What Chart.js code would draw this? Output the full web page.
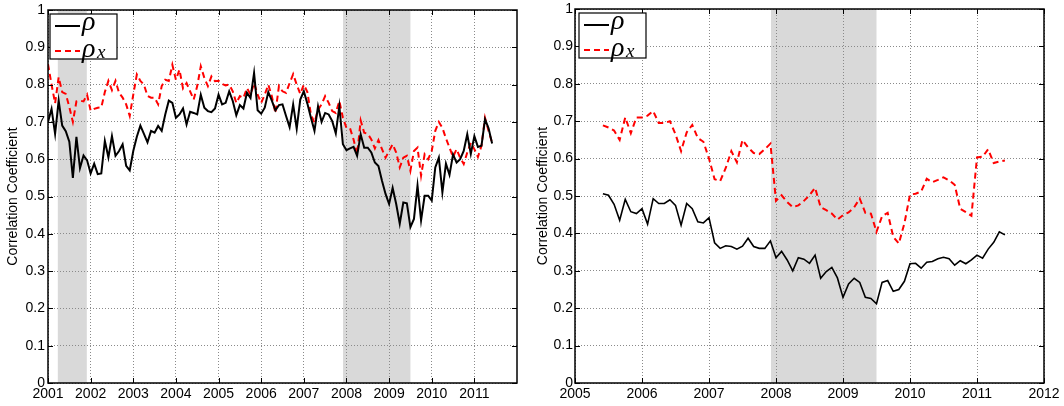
<!DOCTYPE html>
<html><head><meta charset="utf-8">
<script src="https://cdn.jsdelivr.net/npm/chart.js@4/dist/chart.umd.min.js"></script>
<style>
html,body{margin:0;padding:0;background:#fff;width:1064px;height:406px;overflow:hidden}
.p{position:absolute;top:0;height:406px}
</style></head><body>
<div class="p" style="left:0;width:530px"><canvas id="c1" width="530" height="406"></canvas></div>
<div class="p" style="left:530px;width:534px"><canvas id="c2" width="534" height="406"></canvas></div>
<script>
// ---------- DATA ----------
// Left panel: monthly, starting January 2001
const leftStartYear = 2001, leftStartMonth = 0;
const leftRho = [
0.70,0.735,0.668,0.757,0.69,0.675,0.647,0.55,0.66,0.576,
0.61,0.597,0.562,0.588,0.56,0.562,0.649,0.605,0.662,0.609,
0.622,0.64,0.582,0.57,0.622,0.66,0.69,0.668,0.645,0.676,
0.671,0.689,0.676,0.72,0.757,0.751,0.711,0.72,0.736,0.693,
0.727,0.724,0.72,0.773,0.738,0.729,0.726,0.736,0.773,0.747,
0.751,0.782,0.756,0.718,0.745,0.736,0.778,0.764,0.831,0.731,
0.722,0.738,0.78,0.757,0.731,0.745,0.747,0.716,0.686,0.747,
0.682,0.76,0.782,0.749,0.711,0.676,0.742,0.70,0.724,0.72,
0.702,0.669,0.742,0.64,0.624,0.629,0.633,0.609,0.667,0.631,
0.631,0.618,0.591,0.582,0.542,0.507,0.48,0.523,0.48,0.427,
0.484,0.482,0.418,0.44,0.529,0.436,0.502,0.502,0.489,0.578,
0.604,0.511,0.588,0.558,0.613,0.591,0.60,0.622,0.667,0.614,
0.662,0.633,0.636,0.707,0.683,0.642];
const leftRhoX = [
0.855,0.80,0.75,0.82,0.78,0.775,0.74,0.70,0.755,0.757,
0.755,0.773,0.73,0.735,0.738,0.739,0.78,0.81,0.785,0.81,
0.778,0.765,0.747,0.716,0.773,0.827,0.81,0.80,0.77,0.765,
0.765,0.747,0.796,0.813,0.81,0.853,0.813,0.84,0.79,0.804,
0.782,0.76,0.796,0.849,0.818,0.796,0.822,0.809,0.81,0.802,
0.798,0.80,0.782,0.751,0.769,0.764,0.791,0.773,0.804,0.773,
0.751,0.773,0.80,0.769,0.724,0.796,0.782,0.778,0.804,0.828,
0.80,0.775,0.80,0.78,0.72,0.698,0.733,0.747,0.769,0.751,
0.729,0.724,0.756,0.711,0.684,0.683,0.653,0.613,0.704,0.671,
0.668,0.653,0.629,0.651,0.627,0.604,0.622,0.64,0.618,0.578,
0.604,0.609,0.569,0.622,0.631,0.556,0.613,0.60,0.622,0.676,
0.70,0.684,0.656,0.631,0.606,0.627,0.604,0.587,0.618,0.644,
0.627,0.606,0.636,0.711,0.676,0.644];

// Right panel: monthly, starting June 2005
const rightStartYear = 2005, rightStartMonth = 5;
const rightRho = [
0.506,0.502,0.478,0.435,0.491,0.458,0.453,0.466,0.425,0.493,
0.48,0.48,0.49,0.475,0.422,0.48,0.466,0.431,0.428,0.442,
0.375,0.36,0.367,0.365,0.358,0.366,0.387,0.365,0.36,0.36,
0.38,0.335,0.352,0.329,0.30,0.335,0.331,0.32,0.342,0.28,
0.298,0.309,0.281,0.229,0.265,0.28,0.269,0.229,0.226,0.212,
0.269,0.274,0.245,0.25,0.272,0.319,0.32,0.307,0.323,0.325,
0.332,0.336,0.332,0.315,0.327,0.319,0.329,0.342,0.334,0.358,
0.376,0.404,0.396];
const rightRhoX = [
0.689,0.683,0.675,0.65,0.71,0.668,0.71,0.71,0.715,0.727,
0.695,0.695,0.70,0.665,0.62,0.67,0.69,0.655,0.645,0.60,
0.545,0.54,0.575,0.62,0.59,0.65,0.63,0.615,0.612,0.625,
0.64,0.487,0.502,0.484,0.47,0.475,0.487,0.502,0.522,0.47,
0.462,0.453,0.437,0.449,0.456,0.47,0.493,0.455,0.453,0.404,
0.446,0.455,0.391,0.373,0.427,0.504,0.506,0.512,0.546,0.537,
0.543,0.55,0.542,0.53,0.466,0.457,0.447,0.603,0.605,0.625,
0.588,0.592,0.595];

const leftXTicks = [2001,2002,2003,2004,2005,2006,2007,2008,2009,2010,2011];
const rightXTicks = [2005,2006,2007,2008,2009,2010,2011,2012];
const yTicks = [0,0.1,0.2,0.3,0.4,0.5,0.6,0.7,0.8,0.9,1];
const yTickLabels = ['0','0.1','0.2','0.3','0.4','0.5','0.6','0.7','0.8','0.9','1'];
const leftRecessions = [[2001.23,2001.91],[2007.92,2009.5]];
const rightRecessions = [[2007.925,2009.5]];
const yTitle = 'Correlation Coefficient';

// ---------- PLUGINS ----------
const shadePlugin = {
  id:'shade',
  beforeDraw(chart, args, opts){
    const {ctx, chartArea:a, scales:{x}} = chart;
    ctx.save();
    ctx.fillStyle = '#fff';
    ctx.fillRect(0,0,chart.width,chart.height);
    ctx.fillStyle = '#d9d9d9';
    for (const [s,e] of opts.periods){
      const x0 = x.getPixelForValue(s), x1 = x.getPixelForValue(e);
      ctx.fillRect(x0, a.top, x1-x0, a.bottom-a.top);
    }
    ctx.restore();
  }
};
const framePlugin = {
  id:'frame',
  afterDraw(chart, args, opts){
    const {ctx, chartArea:a, scales:{x,y}} = chart;
    ctx.save();
    ctx.strokeStyle = '#000';
    ctx.lineWidth = 1;
    ctx.beginPath();
    for (const v of opts.xticks){
      const px = Math.round(x.getPixelForValue(v))+0.5;
      ctx.moveTo(px,a.bottom); ctx.lineTo(px,a.bottom-5);
      ctx.moveTo(px,a.top); ctx.lineTo(px,a.top+5);
    }
    for (const v of yTicks){
      const py = Math.round(y.getPixelForValue(v))+0.5;
      ctx.moveTo(a.left,py); ctx.lineTo(a.left+5,py);
      ctx.moveTo(a.right,py); ctx.lineTo(a.right-5,py);
    }
    ctx.stroke();
    ctx.lineWidth = 1.5;
    ctx.strokeRect(a.left, a.top, a.right-a.left, a.bottom-a.top);
    // legend
    const bx = a.left + opts.lgdx, by = a.top + 4, bw = 67, bh = 45;
    ctx.fillStyle = '#fff';
    ctx.fillRect(bx,by,bw,bh);
    ctx.lineWidth = 1.2;
    ctx.strokeStyle = '#000';
    ctx.strokeRect(bx,by,bw,bh);
    ctx.lineWidth = 2;
    ctx.beginPath(); ctx.moveTo(bx+5,by+12); ctx.lineTo(bx+30,by+12); ctx.stroke();
    ctx.strokeStyle = '#ff0000';
    ctx.setLineDash([6,4]);
    ctx.beginPath(); ctx.moveTo(bx+5,by+37); ctx.lineTo(bx+30,by+37); ctx.stroke();
    ctx.setLineDash([]);
    ctx.fillStyle = '#000';
    ctx.textBaseline = 'alphabetic';
    ctx.textAlign = 'left';
    ctx.font = 'italic 28px "Liberation Serif"';
    ctx.fillText('ρ', bx+32, by+16);
    ctx.fillText('ρ', bx+32, by+43);
    ctx.font = 'italic 19px "Liberation Serif"';
    ctx.fillText('x', bx+47, by+44);
    ctx.restore();
  }
};

function monthly(startYear, startMonth, vals){
  return vals.map((v,i)=>({x: startYear + (startMonth+i)/12, y: v}));
}

function makeChart(id, cfg){
  const font = {family:'"Liberation Sans", Arial, sans-serif', size:14, lineHeight:1};
  return new Chart(document.getElementById(id), {
    type:'line',
    data:{datasets:[
      {label:'ρ', data: monthly(cfg.sy, cfg.sm, cfg.rho), borderColor:'#000', borderWidth:cfg.bw,
       pointRadius:0, tension:0, fill:false},
      {label:'ρx', data: monthly(cfg.sy, cfg.sm, cfg.rhox), borderColor:'#ff0000', borderWidth:2,
       borderDash:[6,4], pointRadius:0, tension:0, fill:false}
    ]},
    plugins:[shadePlugin, framePlugin],
    options:{
      responsive:false, animation:false, devicePixelRatio:1,
      layout:{padding:{top:8, right:cfg.padR, left:0, bottom:0}},
      plugins:{legend:{display:false}, tooltip:{enabled:false},
        shade:{periods:cfg.rec}, frame:{xticks:cfg.xticks, lgdx:cfg.lgdx}},
      scales:{
        x:{type:'linear', min:cfg.xmin, max:cfg.xmax,
          afterBuildTicks:(s)=>{ s.ticks = cfg.xticks.map(v=>({value:v})); },
          afterFit:(s)=>{ s.height = 23; },
          ticks:{font, color:'#000', padding:4, autoSkip:false, maxRotation:0,
            callback:(v)=>String(v)},
          grid:{color:'#8a8a8a', lineWidth:1, drawTicks:false},
          border:{display:false, dash:[1,2]}
        },
        y:{type:'linear', min:0, max:1,
          afterBuildTicks:(s)=>{ s.ticks = yTicks.map(v=>({value:v})); },
          afterFit:(s)=>{ s.width = cfg.yw; },
          ticks:{font, color:'#000', padding:cfg.ypad,
            callback:(v)=>{ const i = yTicks.findIndex(t=>Math.abs(t-v)<1e-9); return i>=0?yTickLabels[i]:''; }},
          grid:{color:'#8a8a8a', lineWidth:1, drawTicks:false},
          border:{display:false, dash:[1,2]},
          title:{display:true, text:yTitle, color:'#000',
            font:{family:'"Liberation Sans", Arial, sans-serif', size:14},
            padding:{top:5,bottom:0}}
        }
      }
    }
  });
}

makeChart('c1', {sy:leftStartYear, sm:leftStartMonth, rho:leftRho, rhox:leftRhoX, bw:2,
  xmin:2001, xmax:2012, xticks:leftXTicks, rec:leftRecessions, padR:13, yw:48, ypad:3, lgdx:2});
makeChart('c2', {sy:rightStartYear, sm:rightStartMonth, rho:rightRho, rhox:rightRhoX, bw:1.6,
  xmin:2005, xmax:2012, xticks:rightXTicks, rec:rightRecessions, padR:20, yw:45, ypad:2, lgdx:4});
</script>
</body></html>
